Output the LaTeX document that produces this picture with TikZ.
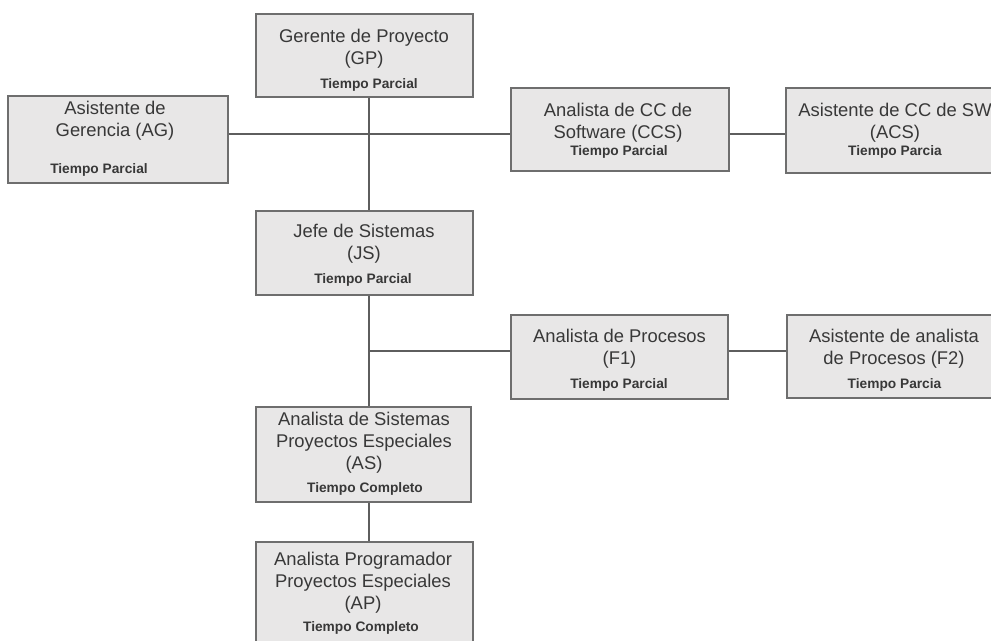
\documentclass[tikz,border=0pt]{standalone}
\usepackage{fontspec}
\setmainfont{Liberation Sans}
\definecolor{boxfill}{HTML}{E8E7E7}
\definecolor{boxline}{HTML}{6E6E6E}
\definecolor{txt}{HTML}{383838}
\definecolor{conn}{HTML}{5E5E5E}
\tikzset{
  orgbox/.style={draw=boxline, fill=boxfill, line width=1.2pt, rectangle, inner sep=0pt},
  maintext/.style={text=txt, align=center, inner sep=0pt, font=\fontsize{13.8}{16.5}\selectfont},
  parttext/.style={text=txt, inner sep=0pt, font=\bfseries\fontsize{10.3}{12}\selectfont},
  conline/.style={draw=conn, line width=1.4pt}
}
\begin{document}
\begin{tikzpicture}[x=0.75pt,y=-0.75pt]
\useasboundingbox (0,0) rectangle (991,640);
\clip (0,0) rectangle (991,640);
\fill[white] (0,0) rectangle (991,640);
% reference coordinates for connectors
\coordinate (spine) at (369,0);
\coordinate (htop) at (0,134);
\coordinate (hmid) at (0,351);
% boxes
\node[orgbox, minimum width=217*0.75pt, minimum height=83*0.75pt] (gp) at (364.5,55.5) {};
\node[orgbox, minimum width=220*0.75pt, minimum height=87*0.75pt] (ag) at (118,139.5) {};
\node[orgbox, minimum width=218*0.75pt, minimum height=83*0.75pt] (ccs) at (620,129.5) {};
\node[orgbox, minimum width=228*0.75pt, minimum height=85*0.75pt] (acs) at (900,130.5) {};
\node[orgbox, minimum width=217*0.75pt, minimum height=84*0.75pt] (js) at (364.5,253) {};
\node[orgbox, minimum width=217*0.75pt, minimum height=84*0.75pt] (f1) at (619.5,357) {};
\node[orgbox, minimum width=228*0.75pt, minimum height=83*0.75pt] (f2) at (901,356.5) {};
\node[orgbox, minimum width=215*0.75pt, minimum height=95*0.75pt] (as) at (363.5,454.5) {};
\node[orgbox, minimum width=217*0.75pt, minimum height=108*0.75pt] (ap) at (364.5,596) {};
% connectors
\draw[conline] (gp.south -| spine) -- (js.north -| spine);
\draw[conline] (ag.east |- htop) -- (ccs.west |- htop);
\draw[conline] (ccs.east |- htop) -- (acs.west |- htop);
\draw[conline] (js.south -| spine) -- (as.north -| spine);
\draw[conline] (spine |- hmid) -- (f1.west |- hmid);
\draw[conline] (f1.east |- hmid) -- (f2.west |- hmid);
\draw[conline] (as.south -| spine) -- (ap.north -| spine);
% texts
\node[maintext] (gpt) at (364,48.5) {Gerente de Proyecto\\(GP)};
\node[parttext] (gpp) at (369,85) {Tiempo Parcial};
\node[maintext] (agt) at (115,120.5) {Asistente de\\Gerencia (AG)};
\node[parttext, anchor=west] (agp) at (50,170) {Tiempo Parcial};
\node[maintext] (ccst) at (618,123) {Analista de CC de\\Software (CCS)};
\node[parttext] (ccsp) at (619,152) {Tiempo Parcial};
\node[maintext] (acst) at (895,123) {Asistente de CC de SW\\(ACS)};
\node[parttext] (acsp) at (895,152) {Tiempo Parcia};
\node[maintext] (jst) at (364,243.5) {Jefe de Sistemas\\(JS)};
\node[parttext] (jsp) at (363,280) {Tiempo Parcial};
\node[maintext] (f1t) at (619.5,349) {Analista de Procesos\\(F1)};
\node[parttext] (f1p) at (619,385) {Tiempo Parcial};
\node[maintext] (f2t) at (894,349) {Asistente de analista\\de Procesos (F2)};
\node[parttext] (f2p) at (894.5,385) {Tiempo Parcia};
\node[maintext] (ast) at (364,443) {Analista de Sistemas\\Proyectos Especiales\\(AS)};
\node[parttext] (asp) at (365,489) {Tiempo Completo};
\node[maintext] (apt) at (363,582.5) {Analista Programador\\Proyectos Especiales\\(AP)};
\node[parttext] (app) at (361,628) {Tiempo Completo};
\end{tikzpicture}
\end{document}
